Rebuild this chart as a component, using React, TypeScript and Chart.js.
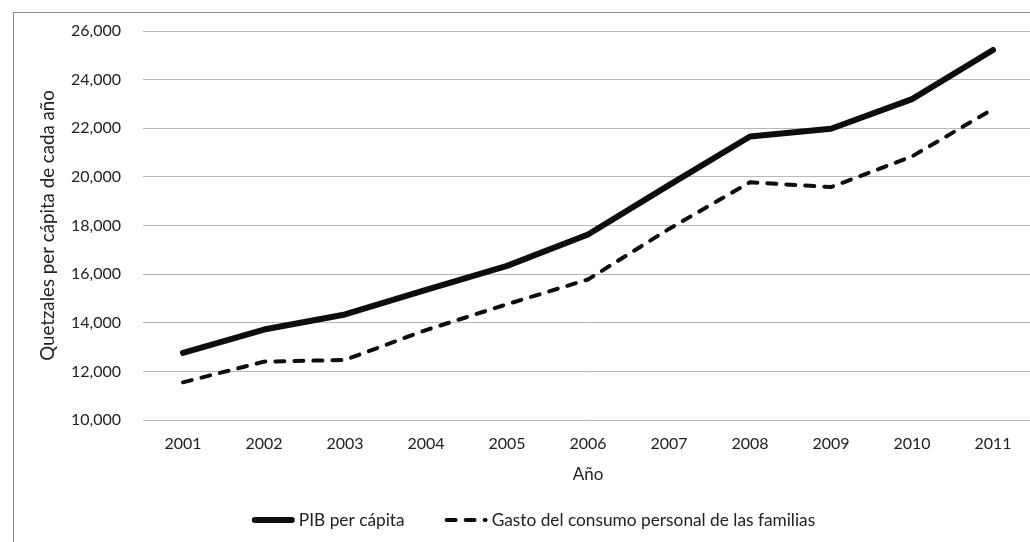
import React, { useEffect, useRef } from "react";
import { Chart, registerables } from "chart.js";

Chart.register(...registerables);

// ---- Data ----
const years = ["2001", "2002", "2003", "2004", "2005", "2006", "2007", "2008", "2009", "2010", "2011"];
const pibPerCapita = [12760, 13720, 14340, 15350, 16340, 17630, 19660, 21660, 21980, 23200, 25220];
const gastoConsumo = [11550, 12400, 12470, 13700, 14760, 15780, 17860, 19780, 19580, 20840, 22790];
const yTickValues = [10000, 12000, 14000, 16000, 18000, 20000, 22000, 24000, 26000];
const seriesNames = ["PIB per cápita", "Gasto del consumo personal de las familias"];
const xAxisTitle = "Año";
const yAxisTitle = "Quetzales per cápita de cada año";

const FONT = "Lato, 'DejaVu Sans', sans-serif";
const TEXT = "#222222";
const LINE = "#0d0d0d";

const legendPlugin = {
  id: "bottomLegend",
  afterDraw(chart: any) {
    const ctx = chart.ctx as CanvasRenderingContext2D;
    ctx.save();
    ctx.font = `17.3px ${FONT}`;
    const sampleW = 43;
    const textGap = 4;
    const itemGap = 40;
    const datasets = chart.data.datasets;
    const widths = datasets.map((ds: any) => sampleW + textGap + ctx.measureText(ds.label).width);
    const total = widths.reduce((a: number, b: number) => a + b, 0) + itemGap * (datasets.length - 1);
    const centerX = 519.5;
    const y = 507;
    let x = centerX - total / 2;
    datasets.forEach((ds: any, i: number) => {
      ctx.save();
      ctx.strokeStyle = ds.borderColor;
      ctx.lineWidth = ds.borderWidth;
      ctx.lineCap = "round";
      ctx.setLineDash(ds.borderDash || []);
      const cap = ds.borderWidth / 2;
      ctx.beginPath();
      ctx.moveTo(x + cap, y);
      ctx.lineTo(x + sampleW - cap, y);
      ctx.stroke();
      ctx.restore();
      ctx.fillStyle = TEXT;
      ctx.textBaseline = "middle";
      ctx.textAlign = "left";
      ctx.fillText(ds.label, x + sampleW + textGap, y);
      x += widths[i] + itemGap;
    });
    ctx.restore();
  },
};

export default function App() {
  const canvasRef = useRef<HTMLCanvasElement | null>(null);

  useEffect(() => {
    if (!canvasRef.current) return;
    const chart = new Chart(canvasRef.current, {
      type: "line",
      data: {
        labels: years,
        datasets: [
          {
            label: seriesNames[0],
            data: pibPerCapita,
            borderColor: LINE,
            backgroundColor: LINE,
            borderWidth: 6,
            borderCapStyle: "round",
            borderJoinStyle: "round",
            pointRadius: 0,
            tension: 0,
          },
          {
            label: seriesNames[1],
            data: gastoConsumo,
            borderColor: LINE,
            backgroundColor: LINE,
            borderWidth: 4,
            borderDash: [9, 10],
            borderCapStyle: "round",
            borderJoinStyle: "round",
            pointRadius: 0,
            tension: 0,
          },
        ],
      },
      options: {
        responsive: false,
        animation: false,
        layout: { padding: { left: 0, right: 10.5, top: 18, bottom: 57 } },
        plugins: {
          legend: { display: false },
          tooltip: { enabled: false },
        },
        scales: {
          x: {
            type: "category",
            offset: true,
            grid: { display: false, drawTicks: false },
            border: { display: false },
            ticks: { color: TEXT, font: { family: FONT, size: 16 }, padding: 14, maxRotation: 0 },
            title: {
              display: true,
              text: xAxisTitle,
              color: TEXT,
              font: { family: FONT, size: 17 },
              padding: { top: 0, bottom: 0 },
            },
            afterFit: (scale: any) => {
              scale.height = 65;
            },
          },
          y: {
            min: 10000,
            max: 26000,
            grid: { color: "#b8b8b8", lineWidth: 1, drawTicks: false },
            border: { display: false },
            afterBuildTicks: (scale: any) => {
              scale.ticks = yTickValues.map((v) => ({ value: v }));
            },
            ticks: {
              color: TEXT,
              font: { family: FONT, size: 16 },
              padding: 21.5,
              callback: (v: any) => Number(v).toLocaleString("en-US"),
            },
            title: {
              display: true,
              text: yAxisTitle,
              color: TEXT,
              font: { family: FONT, size: 18.7 },
              padding: { top: 23, bottom: 0 },
            },
            afterFit: (scale: any) => {
              scale.width = 128.5;
              scale.paddingTop = 0;
              scale.paddingBottom = 0;
            },
          },
        },
      },
      plugins: [legendPlugin],
    });
    return () => chart.destroy();
  }, []);

  return (
    <div
      style={{
        position: "fixed",
        left: 0,
        top: 0,
        width: 1030,
        height: 542,
        overflow: "hidden",
        background: "#ffffff",
      }}
    >
      <div
        style={{
          position: "absolute",
          left: 13,
          top: 12,
          width: 1100,
          height: 600,
          border: "1px solid #8a8a8a",
        }}
      >
        <canvas ref={canvasRef} width={1030} height={529} style={{ display: "block" }} />
      </div>
    </div>
  );
}
